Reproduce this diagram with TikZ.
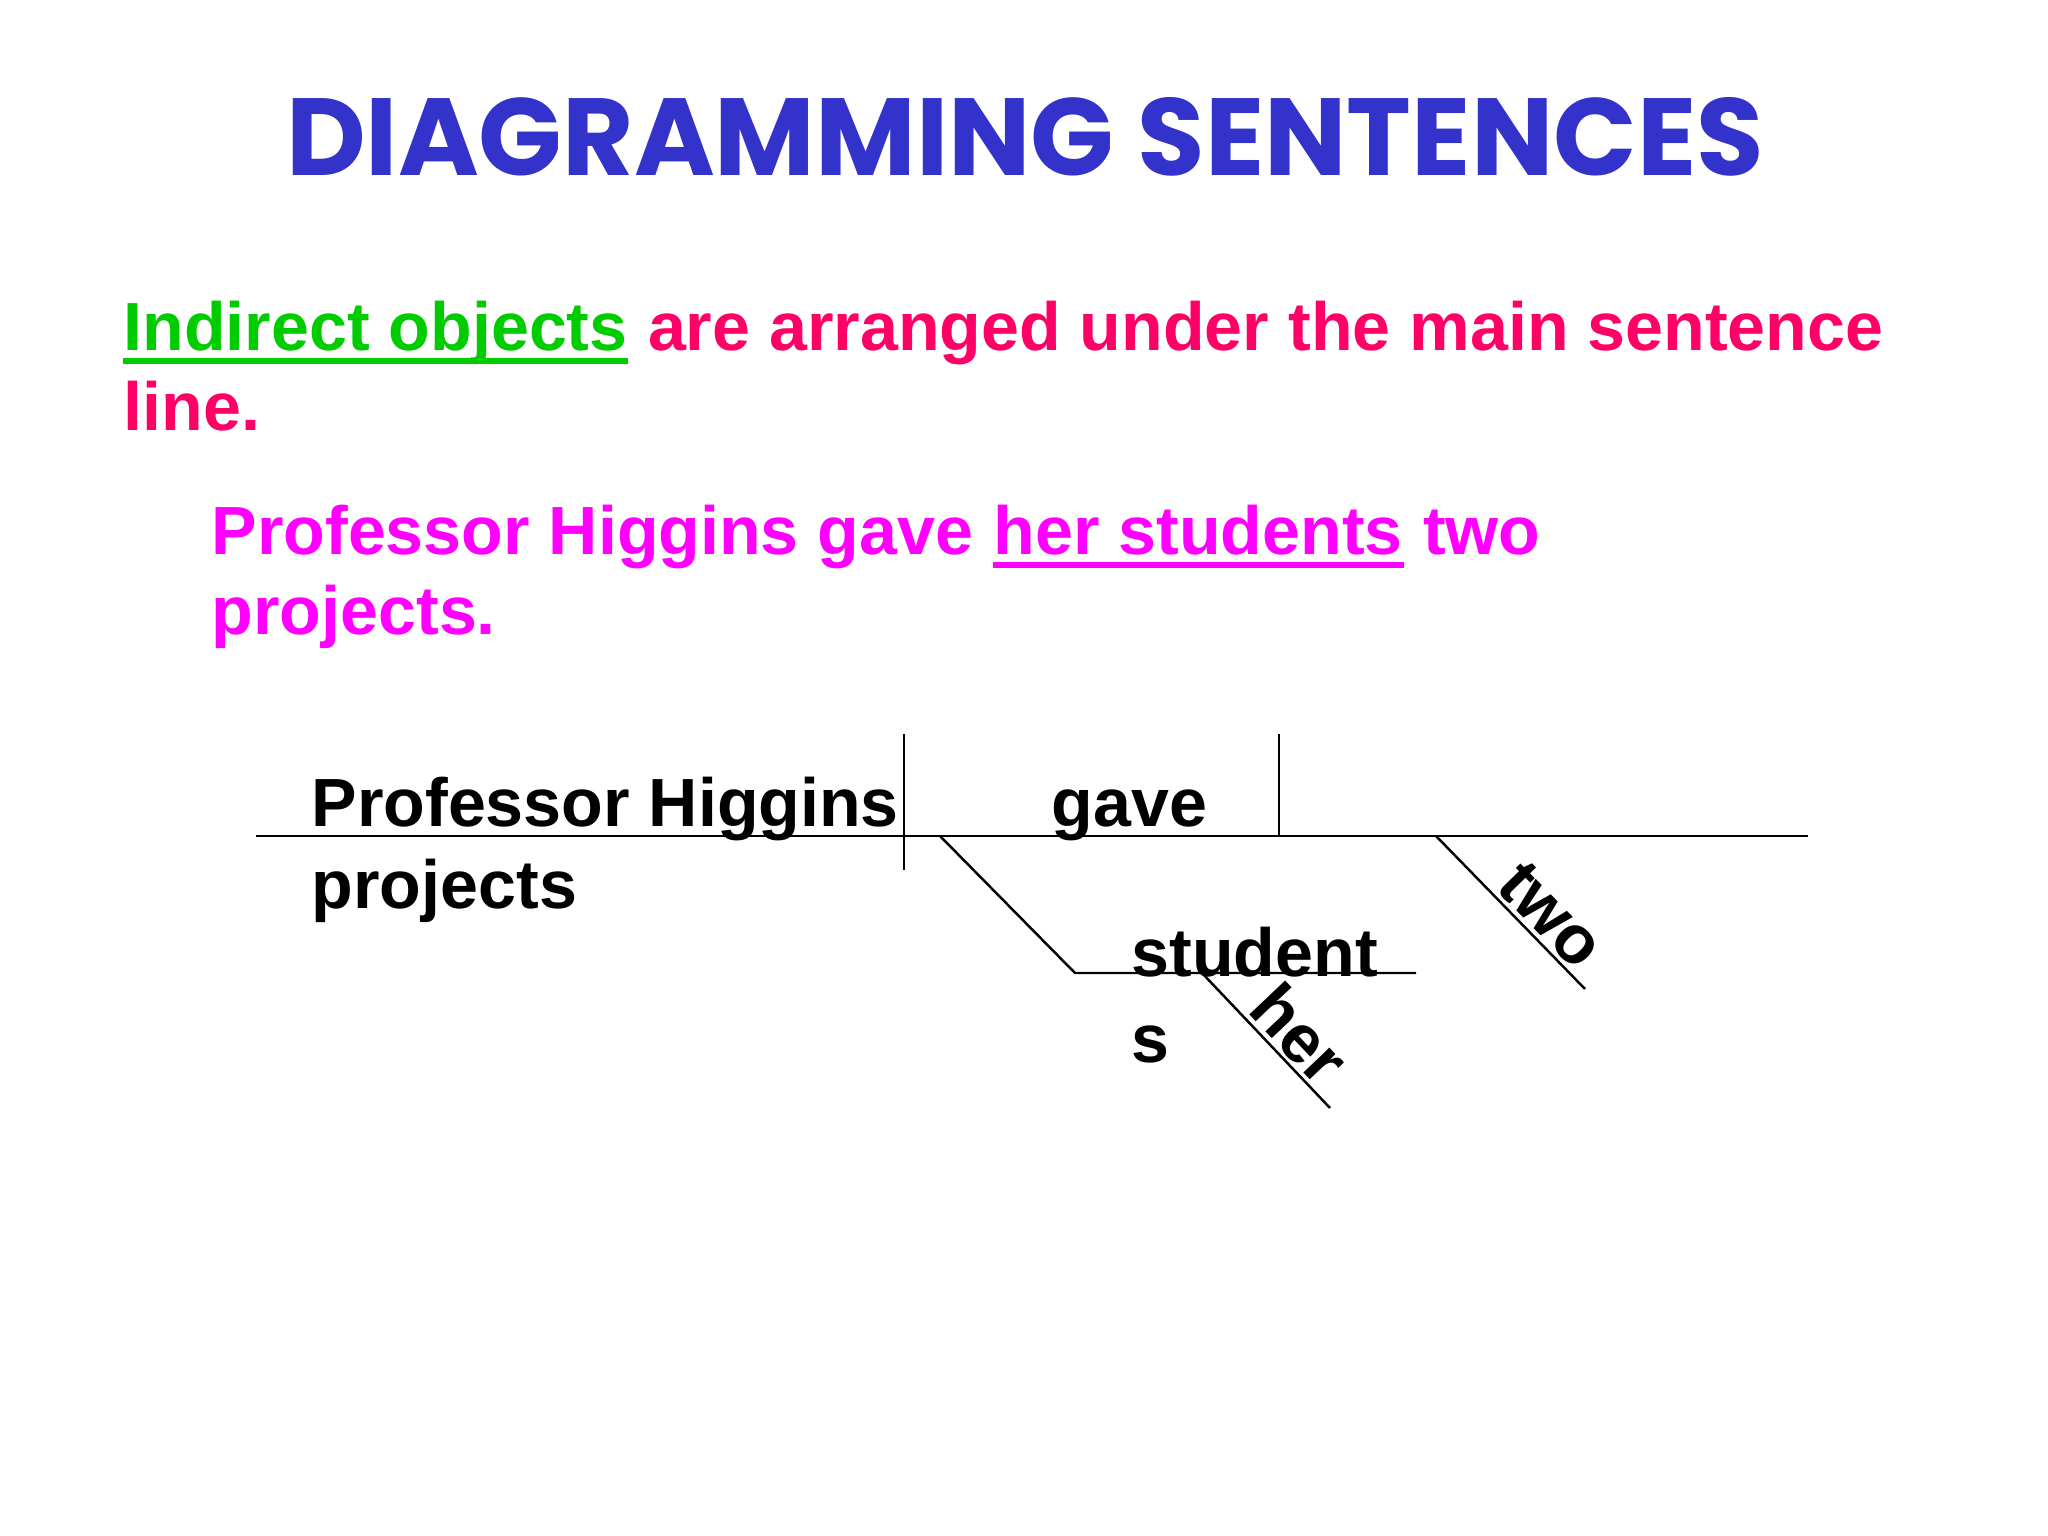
\documentclass[tikz,border=0pt]{standalone}
\usepackage{fontspec}
\setmainfont{Liberation Sans}
\newfontfamily\titlefont{Poppins}
\usetikzlibrary{positioning}
\definecolor{titleblue}{RGB}{51,51,204}
\definecolor{iogreen}{RGB}{0,204,0}
\definecolor{notered}{RGB}{255,0,102}
\definecolor{samplepink}{RGB}{255,0,255}
\tikzstyle{every node}=[font=\fontsize{19.4}{23}\selectfont\bfseries, inner sep=0pt]
\tikzstyle{txt} = [anchor=base west]
\tikzstyle{diagline} = [draw, line width=0.7pt]
\tikzstyle{uline} = [draw, line width=1.7pt]
\tikzstyle{tilted} = [sloped, above, inner sep=1pt]

\begin{document}
\begin{tikzpicture}
    \useasboundingbox [fill=white] (0,0) rectangle (20.48,-15.36);
    % Place nodes
    \node [font=\titlefont\fontsize{31.2}{36}\selectfont\bfseries, text=titleblue, anchor=base] (title) at (10.25,-1.76) {DIAGRAMMING SENTENCES};
    \node [txt, text=iogreen] (io) at (1.23,-3.51) {Indirect objects};
    \node [txt, text=notered, xshift=5.4pt] (rule) at (io.base east) {are arranged under the main sentence};
    \node [txt, text=notered] (rule2) at (1.23,-4.31) {line.};
    \node [txt, text=samplepink] (ex) at (2.11,-5.55) {Professor Higgins gave};
    \node [txt, text=samplepink, xshift=5.4pt] (exio) at (ex.base east) {her students};
    \node [txt, text=samplepink, xshift=5.4pt] (ex3) at (exio.base east) {two};
    \node [txt, text=samplepink] (ex2) at (2.11,-6.35) {projects.};
    % diagram corners
    \coordinate (mainL) at (2.56,-8.36);
    \coordinate (mainR) at (18.08,-8.36);
    \coordinate (subjT) at (9.04,-7.34);
    \coordinate (subjB) at (9.04,-8.70);
    \coordinate (verbT) at (12.79,-7.34);
    \coordinate (verbB) at (12.79,-8.36);
    \coordinate (ioTop) at (9.40,-8.36);
    \coordinate (ioKnee) at (10.75,-9.73);
    \coordinate (ioEnd) at (14.16,-9.73);
    \coordinate (herTop) at (12.02,-9.73);
    \coordinate (herEnd) at (13.30,-11.08);
    \coordinate (twoTop) at (14.36,-8.36);
    \coordinate (twoEnd) at (15.85,-9.89);
    \node [txt] (subj) at (3.11,-8.27) {Professor Higgins};
    \node [txt] (verb) at (10.51,-8.27) {gave};
    \node [txt] (dobj) at (3.11,-9.08) {projects};
    \node [txt] (iobj) at (11.31,-9.76) {student};
    \node [txt] (iobj2) at (11.31,-10.62) {s};
    % Draw edges
    \path [uline, iogreen] ([yshift=-2.8pt]io.base west) -- ([yshift=-2.8pt]io.base east);
    \path [uline, samplepink] ([yshift=-2.8pt]exio.base west) -- ([yshift=-2.8pt]exio.base east);
    \path [diagline] (mainL) -- (mainR);
    \path [diagline] (subjT) -- (subjB);
    \path [diagline] (verbT) -- (verbB);
    \path [diagline] (ioTop) -- (ioKnee) -- (ioEnd);
    \path [diagline] (herTop) -- node [tilted, pos=0.6] (her) {her} (herEnd);
    \path [diagline] (twoTop) -- node [tilted, pos=0.64] (two) {two} (twoEnd);
\end{tikzpicture}
\end{document}
